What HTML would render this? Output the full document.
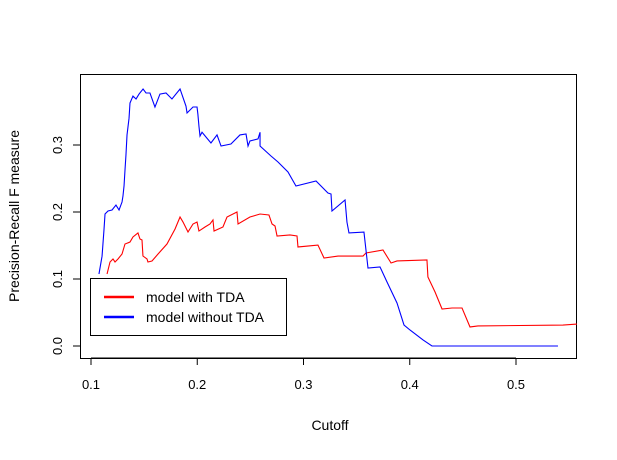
<!DOCTYPE html>
<html><head><meta charset="utf-8"><style>
body{margin:0;background:#fff}
svg text{font-family:"Liberation Sans",Arial,sans-serif;fill:#000}
</style></head><body>
<svg id="c" width="617" height="455">
<rect x="80.5" y="74.5" width="496" height="284" fill="none" stroke="#000"/>
<g id="axes"></g>
<g id="series"></g>
<text x="330" y="430" text-anchor="middle" font-size="14">Cutoff</text>
<text transform="translate(19,216) rotate(-90)" text-anchor="middle" font-size="14">Precision-Recall F measure</text>
<g>
<rect x="90.5" y="278.5" width="196" height="57" fill="#fff" stroke="#000"/>
<line x1="104" y1="297" x2="134" y2="297" stroke="#f00" stroke-width="2.5"/>
<text x="146" y="302" font-size="14">model with TDA</text>
<line x1="104" y1="317" x2="134" y2="317" stroke="#00f" stroke-width="2.5"/>
<text x="146" y="322" font-size="14">model without TDA</text>
</g>
</svg>
<script>
const xTicks=[0.1,0.2,0.3,0.4,0.5];
const xTickLabels=["0.1","0.2","0.3","0.4","0.5"];
const yTicks=[0,0.1,0.2,0.3];
const yTickLabels=["0.0","0.1","0.2","0.3"];
const blueX=[.1075,.1104,.1122,.1132,.116,.1198,.1235,.1264,.1292,.1301,.1311,.132,.1329,.1339,.1358,.1367,.1395,.1424,.1452,.149,.1518,.1555,.1602,.1649,.1706,.1762,.1838,.1894,.1904,.196,.1998,.2006,.2016,.2026,.2045,.2082,.2129,.2186,.2224,.2317,.2402,.2459,.2478,.2496,.2572,.2591,.2591,.2694,.276,.2854,.2929,.3118,.323,.3259,.3268,.3391,.3409,.3428,.3569,.3607,.372,.3786,.388,.3946,.4002,.4125,.4209,.5395];
const blueY=[.1075,.134,.173,.197,.2015,.203,.2104,.203,.2149,.224,.239,.2627,.285,.315,.34,.3627,.373,.3687,.376,.3836,.3776,.3776,.3567,.376,.3776,.3687,.3836,.358,.3478,.3567,.3567,.346,.328,.3134,.319,.312,.303,.315,.2985,.3015,.315,.3164,.2985,.306,.309,.319,.2985,.2836,.2746,.2597,.2388,.2463,.2284,.2269,.2015,.2179,.185,.1687,.17,.1164,.118,.0955,.0642,.0313,.0239,.009,0,0];
const redX=[.1151,.1179,.1207,.1226,.1254,.1292,.132,.1367,.1395,.1442,.1461,.148,.1489,.1527,.1536,.1574,.1631,.1715,.1791,.1838,.1866,.1913,.196,.1998,.2016,.2073,.212,.2148,.2158,.2242,.228,.2374,.2384,.2496,.2591,.2675,.2704,.2732,.2751,.2873,.2939,.2948,.3136,.3193,.3325,.356,.3588,.3748,.3824,.388,.4162,.4171,.4238,.4304,.4398,.4492,.4567,.4642,.5442,.5574];
const redY=[.1075,.1254,.1299,.1254,.1299,.1373,.1522,.1552,.1627,.1687,.1597,.1582,.1343,.1299,.1254,.1269,.1373,.1522,.1746,.1925,.185,.1701,.1821,.185,.1716,.1776,.1821,.1881,.1716,.1776,.1925,.2,.1821,.1925,.197,.1955,.1821,.1791,.1642,.1657,.1642,.1478,.1507,.1313,.1343,.1343,.1388,.1433,.1239,.1269,.1284,.103,.0806,.0552,.0567,.0567,.0284,.0299,.0313,.0328];
const sx=v=>91+(v-0.1)*1062.5;
const sy=v=>346-v*670;
const NS="http://www.w3.org/2000/svg";
const axes=document.getElementById('axes'),ser=document.getElementById('series');
function mk(t,a,p){const e=document.createElementNS(NS,t);for(const k in a)e.setAttribute(k,a[k]);p.appendChild(e);return e;}
xTicks.forEach((v,i)=>{
 const l=mk('line',{x1:sx(v),x2:sx(v),y1:358,y2:365,stroke:'#000'},axes);
 
 
 const t=mk('text',{x:sx(v),y:389,'text-anchor':'middle','font-size':13},axes);t.textContent=xTickLabels[i];
 
 
});
mk('line',{x1:sx(0.1),x2:sx(0.5),y1:358,y2:358,stroke:'#000'},axes);
yTicks.forEach((v,i)=>{
 const l=mk('line',{x1:73,x2:80,y1:sy(v),y2:sy(v),stroke:'#000'},axes);
 
 
 const t=mk('text',{transform:`translate(62,${sy(v)}) rotate(-90)`,'text-anchor':'middle','font-size':13},axes);t.textContent=yTickLabels[i];
 
 
});
function line(X,Y,c,n){
 const p=mk('polyline',{points:X.map((x,i)=>sx(x)+','+sy(Y[i])).join(' '),fill:'none',stroke:c,'stroke-width':1.1},ser);
 
 
}
line(redX,redY,'#f00','series-with-tda');
line(blueX,blueY,'#00f','series-without-tda');
</script>
</body></html>
